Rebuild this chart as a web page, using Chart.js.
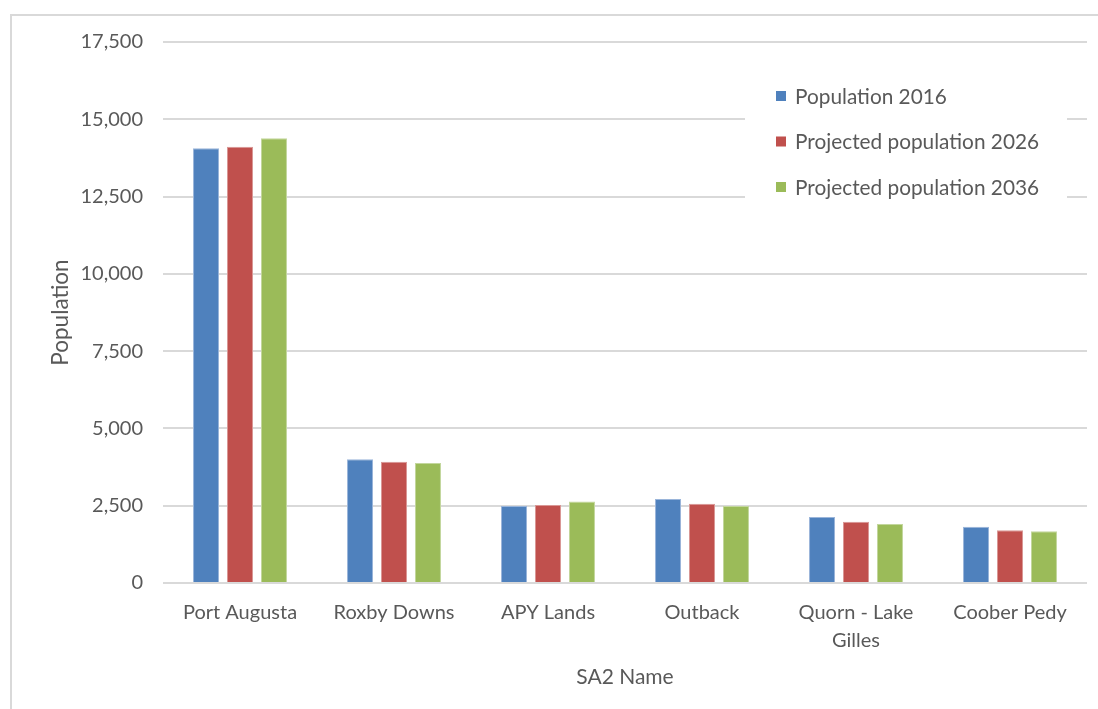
<!DOCTYPE html>
<html>
<head>
<meta charset="utf-8">
<script src="https://cdn.jsdelivr.net/npm/chart.js@4/dist/chart.umd.min.js"></script>
<style>
  body { margin: 0; background: #fff; }
  canvas { display: block; }
</style>
</head>
<body>
<canvas id="popChart" width="1098" height="709"></canvas>
<script>
var regions = ['Port Augusta', 'Roxby Downs', 'APY Lands', 'Outback', ['Quorn - Lake', 'Gilles'], 'Coober Pedy'];
var seriesNames = ['Population 2016', 'Projected population 2026', 'Projected population 2036'];
var pop2016 = [14060, 4000, 2490, 2720, 2135, 1820];
var pop2026 = [14115, 3925, 2525, 2565, 1985, 1705];
var pop2036 = [14385, 3880, 2640, 2490, 1910, 1670];
var yTicks = [0, 2500, 5000, 7500, 10000, 12500, 15000, 17500];

var textColor = '#595959';
var fontFamily = 'Lato, "Open Sans", sans-serif';

// thin grey frame on the left and top edge
var framePlugin = {
  id: 'frame',
  beforeDraw: function(chart) {
    var c = chart.ctx;
    c.save();
    c.strokeStyle = '#d9d9d9';
    c.lineWidth = 2;
    c.beginPath();
    c.moveTo(11, chart.height);
    c.lineTo(11, 15);
    c.lineTo(chart.width, 15);
    c.stroke();
    c.restore();
  }
};

// legend sitting on a white box inside the plot, top right
var boxLegend = {
  id: 'boxLegend',
  afterDatasetsDraw: function(chart) {
    var c = chart.ctx;
    c.save();
    c.fillStyle = '#fff';
    c.fillRect(745, 74, 322, 134);
    c.font = '20.8px ' + fontFamily;
    c.textBaseline = 'middle';
    chart.data.datasets.forEach(function(ds, i) {
      var y = 96 + i * 45.5;
      c.fillStyle = ds.backgroundColor;
      c.fillRect(776, y - 5, 10, 10);
      c.fillStyle = textColor;
      c.fillText(ds.label, 795, y + 1);
    });
    c.restore();
  }
};

var colors = ['#4f81bd', '#c0504d', '#9bbb59'];
var edges = ['#9ab5da', '#d99795', '#c3d79d'];
var values = [pop2016, pop2026, pop2036];

var ctx = document.getElementById('popChart');
var myChart = new Chart(ctx, {
  type: 'bar',
  data: {
    labels: regions,
    datasets: seriesNames.map(function(name, i) {
      return {
        label: name,
        data: values[i],
        backgroundColor: colors[i],
        borderColor: edges[i],
        borderWidth: 1,
        categoryPercentage: 0.662,
        barPercentage: 0.765
      };
    })
  },
  options: {
    responsive: false,
    animation: false,
    layout: { padding: { top: 42, right: 11, left: 0, bottom: 0 } },
    plugins: {
      legend: { display: false },
      tooltip: { enabled: false }
    },
    scales: {
      x: {
        grid: { display: false },
        border: { display: false },
        ticks: {
          color: textColor,
          font: { family: fontFamily, size: 20, lineHeight: 1.4 },
          padding: 8,
          maxRotation: 0,
          autoSkip: false
        },
        title: {
          display: true,
          text: 'SA2 Name',
          color: textColor,
          font: { family: fontFamily, size: 21 },
          padding: { top: 0, bottom: 19 }
        },
        afterFit: function(scale) { scale.height = 126; }
      },
      y: {
        min: 0,
        max: 17500,
        afterBuildTicks: function(scale) {
          scale.ticks = yTicks.map(function(v) { return { value: v }; });
        },
        grid: { color: '#d9d9d9', lineWidth: 2, drawTicks: false },
        border: { display: false },
        ticks: {
          color: textColor,
          font: { family: fontFamily, size: 20 },
          padding: 20,
          callback: function(v) { return v.toLocaleString('en-US'); }
        },
        title: {
          display: true,
          text: 'Population',
          color: textColor,
          font: { family: fontFamily, size: 22.5 },
          padding: { top: 47, bottom: 0 }
        },
        afterFit: function(scale) { scale.width = 163; }
      }
    }
  },
  plugins: [framePlugin, boxLegend]
});
</script>
</body>
</html>
